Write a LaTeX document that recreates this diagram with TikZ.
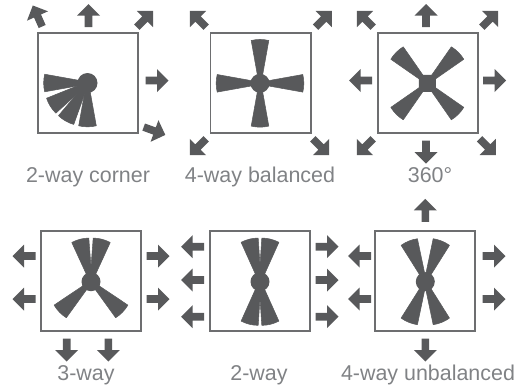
\documentclass[tikz,border=0pt]{standalone}
\usepackage{fontspec}
\setmainfont{Liberation Sans}
\definecolor{fanGray}{HTML}{58595B}
\definecolor{frameGray}{HTML}{6D6E70}
\definecolor{textGray}{HTML}{808285}
\tikzset{
    frame/.style={draw=frameGray, line width=1.1pt},
    hub/.style={fill=fanGray},
    panellabel/.style={anchor=base, text=textGray, font=\fontsize{12.2}{15}\selectfont, inner sep=0pt},
    pics/flow/.style={code={
        \fill[fanGray] (-11.5,-3.8) -- (0,-3.8) -- (0,-11.5) -- (11.5,0) -- (0,11.5) -- (0,3.8) -- (-11.5,3.8) -- cycle;
    }},
    pics/blade/.style={code={
        \filldraw[fanGray, line width=0.3pt, line join=round] (6,-2.2) -- (42.8,-8.8) .. controls (44.2,-3) and (44.2,3) .. (42.8,8.8) -- (6,2.2) -- cycle;
    }}
}
\begin{document}
\begin{tikzpicture}[x=0.02cm, y=-0.02cm]
    \useasboundingbox (0,0) rectangle (531,386);

    % 1. 2-way corner
    \draw[frame] (38,33) rectangle (138,133);
    \pic[rotate=180] at (87.5,83) {blade};
    \pic[rotate=212] at (87.5,83) {blade};
    \pic[rotate=240] at (87.5,83) {blade};
    \pic[rotate=270] at (87.5,83) {blade};
    \fill[hub] (87.5,83) circle (10);
    \pic[rotate=114] at (37.5,16) {flow};
    \pic[rotate=90] at (88.5,15.5) {flow};
    \pic[rotate=45] at (145,19) {flow};
    \pic at (157,80.5) {flow};
    \pic[rotate=-20] at (154.5,131) {flow};
    \node[panellabel] (cornerlabel) at (88,182.7) {2-way corner};

    % 2. 4-way balanced
    \draw[frame] (210.5,33) rectangle (311,133);
    \pic[rotate=0] at (260,83.3) {blade};
    \pic[rotate=90] at (260,83.3) {blade};
    \pic[rotate=180] at (260,83.3) {blade};
    \pic[rotate=270] at (260,83.3) {blade};
    \fill[hub] (260,83.3) circle (9.5);
    \pic[rotate=135] at (198,19) {flow};
    \pic[rotate=45] at (323.7,19) {flow};
    \pic[rotate=-135] at (198,147) {flow};
    \pic[rotate=-45] at (321,147) {flow};
    \node[panellabel] (balancedlabel) at (260,182.7) {4-way balanced};

    % 3. 360 degrees
    \draw[frame] (377.7,33) rectangle (477.7,133);
    \pic[rotate=45] at (427.3,83.3) {blade};
    \pic[rotate=135] at (427.3,83.3) {blade};
    \pic[rotate=225] at (427.3,83.3) {blade};
    \pic[rotate=315] at (427.3,83.3) {blade};
    \fill[hub, rounded corners=2pt] (418.8,74.8) rectangle (435.8,91.8);
    \pic[rotate=135] at (365,19) {flow};
    \pic[rotate=90] at (426,15.5) {flow};
    \pic[rotate=45] at (490,19) {flow};
    \pic[rotate=180] at (360.7,80.5) {flow};
    \pic at (494.7,80.5) {flow};
    \pic[rotate=-135] at (365,147) {flow};
    \pic[rotate=-90] at (426,152) {flow};
    \pic[rotate=-45] at (487.7,147) {flow};
    \node[panellabel] (fulllabel) at (430,182.7) {360°};

    % 4. 3-way
    \draw[frame] (41.3,231) rectangle (141,331);
    \pic[rotate=104.5] at (91,281.7) {blade};
    \pic[rotate=75.5] at (91,281.7) {blade};
    \pic[rotate=224] at (91,281.7) {blade};
    \pic[rotate=316] at (91,281.7) {blade};
    \fill[hub] (91,281.7) circle (9.5);
    \pic[rotate=180] at (24,256) {flow};
    \pic[rotate=180] at (24,299) {flow};
    \pic at (158,256) {flow};
    \pic at (158,299) {flow};
    \pic[rotate=-90] at (66.7,350) {flow};
    \pic[rotate=-90] at (108.3,350) {flow};
    \node[panellabel] (threelabel) at (86,380) {3-way};

    % 5. 2-way
    \draw[frame] (210,231) rectangle (310,331);
    \pic[rotate=104] at (260,281.7) {blade};
    \pic[rotate=76] at (260,281.7) {blade};
    \pic[rotate=256] at (260,281.7) {blade};
    \pic[rotate=284] at (260,281.7) {blade};
    \fill[hub] (260,281.7) circle (9.5);
    \pic[rotate=180] at (192.7,246.7) {flow};
    \pic[rotate=180] at (192.7,280) {flow};
    \pic[rotate=180] at (192.7,316.7) {flow};
    \pic at (327,246.7) {flow};
    \pic at (327,280) {flow};
    \pic at (327,316.7) {flow};
    \node[panellabel] (twolabel) at (259,380) {2-way};

    % 6. 4-way unbalanced
    \draw[frame] (375.3,231) rectangle (475.3,331);
    \pic[rotate=112] at (425.3,281.7) {blade};
    \pic[rotate=68] at (425.3,281.7) {blade};
    \pic[rotate=248] at (425.3,281.7) {blade};
    \pic[rotate=292] at (425.3,281.7) {blade};
    \fill[hub] (425.3,281.7) circle (9.5);
    \pic[rotate=90] at (425.3,210.3) {flow};
    \pic[rotate=180] at (359.7,256) {flow};
    \pic[rotate=180] at (359.7,299) {flow};
    \pic at (494,256) {flow};
    \pic at (494,299) {flow};
    \pic[rotate=-90] at (425.3,350) {flow};
    \node[panellabel] (unbalancedlabel) at (428,380) {4-way unbalanced};
\end{tikzpicture}
\end{document}
